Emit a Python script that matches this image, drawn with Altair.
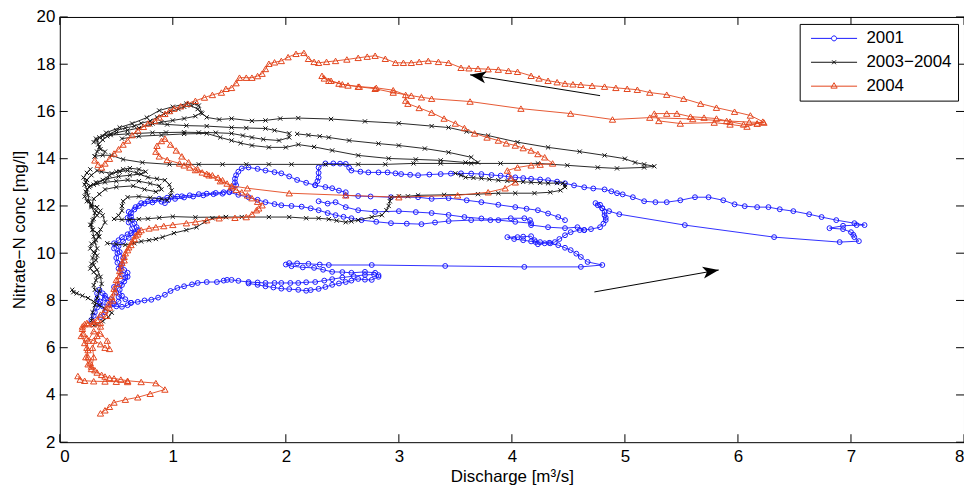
import altair as alt
import pandas as pd

# ---------------- data ----------------
SERIES = ["2001", "2003\u22122004", "2004"]
COLORS = ["#1a1aff", "#111111", "#e3461d"]

X_TICKS = [0, 1, 2, 3, 4, 5, 6, 7, 8]
Y_TICKS = [2, 4, 6, 8, 10, 12, 14, 16, 18, 20]

# ---- 2001 (blue, circles) ----
B_MAIN = [(0.28,7.18),(0.30,7.35),(0.31,7.5),(0.33,7.7),(0.35,7.85),(0.33,8.05),(0.33,8.3),(0.35,8.45),(0.38,8.3),(0.40,8.1),(0.42,7.9),(0.45,7.8),(0.50,7.75),(0.55,7.73),(0.60,7.8),(0.63,7.9),(0.58,8.05),(0.52,8.15),(0.50,8.35),(0.48,8.57),(0.53,8.7),(0.57,8.8),(0.60,9.0),(0.60,9.17),(0.57,9.29),(0.54,9.45),(0.51,9.6),(0.50,9.8),(0.51,10.0),(0.48,10.2),(0.48,10.42),(0.52,10.55),(0.55,10.68),(0.60,10.8),(0.63,10.85),(0.69,10.98),(0.68,11.1),(0.66,11.27),(0.64,11.4),(0.63,11.55),(0.63,11.69),(0.66,11.85),(0.70,12.0),(0.72,12.12),(0.78,12.2),(0.84,12.24),(0.90,12.18),(0.93,12.12),(0.96,12.25),(0.99,12.38),(1.04,12.4),(1.08,12.41),(1.15,12.45),(1.23,12.5),(1.30,12.52),(1.38,12.55),(1.45,12.58),(1.50,12.6),(1.53,12.72),(1.56,12.88),(1.55,13.0),(1.55,13.15),(1.56,13.3),(1.58,13.45),(1.61,13.59),(1.67,13.63),(1.75,13.57),(1.82,13.5),(1.90,13.43),(1.96,13.38),(2.03,13.25),(2.10,13.1),(2.18,12.98),(2.26,12.88),(2.28,13.05),(2.29,13.2),(2.29,13.4),(2.29,13.63),(2.35,13.8),(2.42,13.8),(2.48,13.79),(2.53,13.78),(2.56,13.62),(2.58,13.5),(2.66,13.45),(2.73,13.42),(2.82,13.42),(2.90,13.42),(2.97,13.38),(3.02,13.35),(3.10,13.32),(3.17,13.3),(3.27,13.33),(3.37,13.35),(3.46,13.37),(3.55,13.38),(3.64,13.37),(3.73,13.35),(3.82,13.31),(3.90,13.28),(3.97,13.24),(4.03,13.21),(4.10,13.18),(4.17,13.15),(4.25,13.12),(4.32,13.09),(4.40,13.03),(4.47,12.96),(4.55,12.87),(4.64,12.79),(4.72,12.74),(4.82,12.7),(4.88,12.62),(4.93,12.54),(4.98,12.49),(5.07,12.37),(5.17,12.2),(5.27,12.16),(5.37,12.16),(5.49,12.24),(5.62,12.37),(5.74,12.37),(5.87,12.24),(5.97,12.07),(6.06,11.99),(6.17,11.95),(6.27,11.95),(6.37,11.86),(6.49,11.78),(6.63,11.65),(6.74,11.53),(6.87,11.4),(7.03,11.27),(7.12,11.19),(7.05,11.19),(6.93,11.16),(6.81,11.06),(6.93,11.02),(7.00,10.89),(7.02,10.78),(7.03,10.68),(7.07,10.51),(6.90,10.47),(6.32,10.68),(5.53,11.19),(4.95,11.65),(4.86,11.78),(4.80,11.9),(4.76,12.03),(4.74,12.12),(4.78,12.05),(4.80,11.9),(4.82,11.75),(4.82,11.61),(4.83,11.5),(4.83,11.4),(4.81,11.25),(4.78,11.1),(4.70,11.02),(4.64,10.98),(4.60,10.98),(4.52,10.89),(4.47,10.76),(4.42,10.6),(4.38,10.47),(4.33,10.44),(4.29,10.42),(4.23,10.38),(4.21,10.47),(4.20,10.55),(4.17,10.72),(4.10,10.7),(4.05,10.68),(3.96,10.68),(4.02,10.6),(4.10,10.55),(4.17,10.5),(4.25,10.47),(4.34,10.42),(4.41,10.34),(4.47,10.23),(4.52,10.13),(4.57,9.98),(4.61,9.84),(4.67,9.63),(4.80,9.5),(4.61,9.42),(4.11,9.42),(3.41,9.46),(2.76,9.5),(2.38,9.5),(2.30,9.52),(2.20,9.55),(2.10,9.57),(2.03,9.58),(2.00,9.52),(2.05,9.45),(2.15,9.4),(2.25,9.38),(2.33,9.3),(2.41,9.21),(2.50,9.2),(2.58,9.17),(2.70,9.21),(2.79,9.17),(2.82,9.07),(2.82,9.0),(2.76,8.87),(2.70,8.88),(2.64,8.91),(2.58,8.84),(2.53,8.78),(2.47,8.72),(2.41,8.66),(2.35,8.57),(2.29,8.49),(2.22,8.44),(2.18,8.41),(2.11,8.45),(2.03,8.48),(1.96,8.5),(1.89,8.55),(1.82,8.6),(1.75,8.66),(1.67,8.72)]
B_LOW = [(0.63,7.9),(0.69,7.94),(0.75,8.0),(0.81,8.03),(0.87,8.12),(0.93,8.24),(0.98,8.4),(1.04,8.53),(1.10,8.6),(1.17,8.68),(1.22,8.74),(1.30,8.78),(1.39,8.78),(1.45,8.84),(1.48,8.87),(1.52,8.87),(1.58,8.83),(1.67,8.78),(1.75,8.76),(1.82,8.74),(1.90,8.74),(1.96,8.74),(2.04,8.74),(2.11,8.74),(2.18,8.77),(2.26,8.78),(2.34,8.84),(2.41,8.9),(2.50,8.97),(2.60,9.03),(2.70,9.08),(2.78,9.1)]
B_BAND = [(0.36,7.3),(0.40,7.5),(0.38,7.75),(0.36,7.95),(0.40,8.2),(0.45,8.05),(0.48,7.85),(0.52,7.95),(0.55,8.2),(0.53,8.45),(0.55,8.65),(0.58,8.95),(0.55,9.1),(0.52,9.35),(0.55,9.55),(0.56,9.8),(0.53,10.05),(0.52,10.3),(0.56,10.5),(0.61,10.65),(0.66,10.85),(0.64,11.05),(0.61,11.3),(0.60,11.5),(0.61,11.75),(0.67,11.95),(0.75,12.1),(0.82,12.15),(0.88,12.3),(0.95,12.35),(1.02,12.3),(1.10,12.36),(1.18,12.4),(1.27,12.45),(1.36,12.5),(1.44,12.52)]
B_FAN1 = [(1.50,12.58),(1.58,12.47),(1.67,12.37),(1.75,12.26),(1.82,12.16),(1.90,12.08),(1.96,12.03),(2.05,12.0),(2.14,11.97),(2.22,11.9),(2.29,11.82),(2.37,11.7),(2.44,11.61),(2.51,11.54),(2.58,11.48),(2.67,11.4),(2.80,11.33),(2.93,11.27),(3.07,11.25),(3.20,11.23),(3.32,11.3),(3.44,11.36),(3.64,11.4),(3.81,11.4),(3.99,11.48),(4.11,11.48),(4.16,11.4),(4.17,11.19),(4.32,11.1),(4.47,11.06),(4.58,11.1),(4.64,10.98)]
B_FAN2 = [(2.26,12.88),(2.35,12.8),(2.41,12.75),(2.47,12.65),(2.53,12.58),(2.53,12.45),(2.64,12.42),(2.75,12.4),(2.93,12.37),(3.17,12.37),(3.29,12.3),(3.44,12.33),(3.60,12.24),(3.73,12.16),(3.88,12.05),(4.03,11.95),(4.13,11.88),(4.23,11.82),(4.32,11.68),(4.41,11.53),(4.47,11.4)]
B_FAN3 = [(2.29,12.2),(2.37,12.1),(2.44,12.16),(2.53,11.95),(2.64,11.82),(2.79,11.75),(3.00,11.78),(3.15,11.74),(3.29,11.7),(3.44,11.62),(3.58,11.53),(3.73,11.47),(3.88,11.4),(4.03,11.33),(4.17,11.27)]

# ---- 2003-2004 (black, x markers) ----
K_LOW = [(0.11,8.45),(0.12,8.35),(0.15,8.3),(0.20,8.2),(0.25,8.1),(0.30,7.95),(0.35,7.8),(0.40,7.65),(0.46,7.48),(0.43,7.3),(0.38,7.12),(0.33,6.98),(0.30,6.95),(0.28,7.15),(0.29,7.5),(0.31,7.8),(0.33,8.1),(0.35,8.4),(0.37,8.7),(0.36,9.0),(0.33,9.3),(0.30,9.5),(0.29,9.8),(0.31,10.0),(0.33,10.2),(0.31,10.45),(0.30,10.7),(0.29,10.98),(0.28,11.2),(0.30,11.45),(0.31,11.7),(0.28,11.95),(0.26,12.2),(0.25,12.45),(0.24,12.7),(0.22,12.9),(0.24,13.1),(0.28,13.3),(0.33,13.5),(0.37,13.45),(0.46,13.38),(0.53,13.45),(0.60,13.5),(0.68,13.4),(0.78,13.21),(0.86,13.15),(0.93,13.09),(0.97,12.9),(0.99,12.66),(0.98,12.45),(0.95,12.24),(0.90,12.3),(0.80,12.35),(0.70,12.4),(0.60,12.37),(0.56,12.2),(0.55,12.0),(0.55,11.8),(0.52,11.6),(0.48,11.45),(0.55,11.42),(0.62,11.42),(0.70,11.44),(0.78,11.46),(0.88,11.5),(1.00,11.55),(1.20,11.52),(1.47,11.53),(1.61,11.53),(1.85,11.53),(2.03,11.53),(2.18,11.48),(2.29,11.48),(2.38,11.44),(2.45,11.38),(2.53,11.31),(2.58,11.35),(2.64,11.4),(2.76,11.53),(2.85,11.61),(2.89,11.82),(2.91,12.0),(2.92,12.2),(2.93,12.37),(3.00,12.41),(3.08,12.41),(3.17,12.45),(3.40,12.47),(3.70,12.5),(3.88,12.54),(4.03,12.54),(4.20,12.54),(4.34,12.58),(4.43,12.66),(4.47,12.8),(4.47,12.9),(4.45,12.96),(4.40,12.97),(4.32,12.96),(4.25,12.98),(4.17,13.0),(4.10,13.02),(4.03,13.04),(3.96,13.06),(3.88,13.09),(3.80,13.13),(3.73,13.17),(3.66,13.19),(3.59,13.21),(3.55,13.3),(3.50,13.38)]
K_SCRIB = [(0.27,13.55),(0.24,13.4),(0.21,13.2),(0.23,13.0),(0.27,12.85),(0.33,12.95),(0.38,13.1),(0.44,13.3),(0.50,13.45),(0.56,13.55),(0.62,13.6),(0.70,13.55),(0.76,13.45),(0.72,13.35),(0.62,13.3),(0.52,13.25),(0.42,13.15),(0.32,13.0),(0.26,12.8),(0.23,12.6),(0.22,12.4),(0.24,12.2),(0.28,12.05),(0.33,11.95),(0.36,11.8),(0.33,11.6),(0.29,11.4),(0.27,11.2),(0.29,11.0),(0.33,10.85),(0.35,10.7),(0.32,10.55),(0.28,10.4),(0.27,10.2),(0.30,10.05),(0.33,9.9),(0.32,9.7),(0.28,9.55),(0.27,9.35),(0.30,9.2),(0.33,9.05),(0.32,8.85),(0.30,8.65),(0.31,8.45)]
K_DIAG = [(0.42,10.42),(0.50,10.38),(0.58,10.35),(0.66,10.42),(0.72,10.5),(0.79,10.55),(0.85,10.6),(0.91,10.68),(1.01,10.85),(1.12,10.98),(1.21,11.1),(1.28,11.32),(1.35,11.48),(1.47,11.53)]
K_KNOT = [(0.30,12.9),(0.40,13.0),(0.50,13.05),(0.60,13.1),(0.70,13.05),(0.80,12.95),(0.88,12.85),(0.90,12.7),(0.85,12.6),(0.75,12.7),(0.65,12.85),(0.50,12.8),(0.40,12.7),(0.35,12.5),(0.30,12.3),(0.28,12.0),(0.32,11.8),(0.38,11.6),(0.40,11.3),(0.36,11.0),(0.34,10.7)]
K_LONG = [(0.31,14.1),(0.38,14.15),(0.46,14.14),(0.56,13.97),(0.73,13.84),(0.97,13.76),(1.23,13.76),(1.44,13.76),(1.65,13.76),(1.85,13.76),(2.05,13.76),(2.35,13.76),(2.64,13.76),(2.88,13.76),(3.13,13.8),(3.37,13.8),(3.64,13.8),(3.90,13.8),(4.23,13.8),(4.49,13.72),(4.76,13.63),(4.93,13.59),(5.17,13.63),(5.26,13.68),(5.17,13.76),(5.09,13.84),(5.00,14.0),(4.82,14.14),(4.60,14.3),(4.32,14.48),(4.05,14.7),(3.79,14.98),(3.60,15.15),(3.44,15.32),(3.29,15.38),(3.00,15.5),(2.70,15.58),(2.40,15.68),(2.11,15.72),(1.95,15.7),(1.82,15.62),(1.70,15.6),(1.52,15.7),(1.41,15.66),(1.30,15.75),(1.26,15.91),(1.23,16.25),(1.19,16.33),(1.12,16.33),(1.00,16.2),(0.88,16.04),(0.77,15.74),(0.64,15.49),(0.53,15.32),(0.41,15.1),(0.35,14.9),(0.33,14.77),(0.35,14.5),(0.33,14.3),(0.31,14.1)]
K_UP = [(0.30,14.7),(0.32,14.85),(0.38,14.95),(0.45,15.05),(0.50,15.2),(0.58,15.3),(0.66,15.38),(0.72,15.5),(0.80,15.6),(0.86,15.75),(0.92,15.9),(0.98,16.0),(1.05,16.1),(1.10,16.2),(1.16,16.25),(1.22,16.1),(1.25,15.95),(1.20,15.8),(1.10,15.7),(1.00,15.62),(0.90,15.55),(0.80,15.45),(0.70,15.3),(0.60,15.2),(0.50,15.1),(0.42,14.95),(0.38,14.8),(0.34,14.6),(0.36,14.4),(0.40,14.3)]
K_MID = [(0.45,15.0),(0.60,15.05),(0.82,15.1),(0.94,15.11),(1.10,15.12),(1.23,15.11),(1.38,15.1),(1.52,15.07),(1.62,14.98),(1.70,14.9),(1.80,14.82),(1.94,14.77),(2.03,14.9),(2.03,15.07),(1.90,15.2),(1.82,15.28),(1.65,15.3),(1.52,15.32),(1.30,15.38),(1.12,15.4),(0.95,15.45),(0.82,15.49)]
K_B = [(0.55,14.85),(0.70,14.95),(0.90,15.0),(1.10,15.05),(1.30,15.07),(1.42,14.9),(1.52,14.77),(1.60,14.66),(1.70,14.56),(1.85,14.48),(2.00,14.48),(2.11,14.6),(2.25,14.5),(2.41,14.35),(2.64,14.14),(2.91,14.01),(3.15,13.97),(3.37,13.93),(3.59,13.84),(3.70,13.84),(3.64,14.06),(3.44,14.27),(3.23,14.43),(3.00,14.56),(2.82,14.64),(2.56,14.77),(2.38,14.9),(2.30,14.95),(2.20,15.0),(2.10,15.05)]

# ---- 2004 (red, triangles) ----
R_MAIN = [(0.31,13.93),(0.34,13.75),(0.37,13.63),(0.40,13.8),(0.44,14.0),(0.48,14.22),(0.52,14.4),(0.56,14.6),(0.60,14.77),(0.64,15.0),(0.69,15.2),(0.74,15.35),(0.78,15.49),(0.84,15.6),(0.88,15.75),(0.93,15.9),(0.97,16.02),(1.01,16.12),(1.07,16.22),(1.13,16.33),(1.20,16.45),(1.28,16.59),(1.35,16.7),(1.43,16.8),(1.47,16.96),(1.52,17.0),(1.56,17.2),(1.59,17.43),(1.65,17.43),(1.70,17.43),(1.75,17.5),(1.79,17.6),(1.82,17.8),(1.85,18.02),(1.90,18.08),(1.96,18.14),(2.02,18.3),(2.09,18.44),(2.16,18.48),(2.20,18.23),(2.25,18.1),(2.29,18.06),(2.36,18.1),(2.44,18.14),(2.54,18.2),(2.64,18.27),(2.72,18.32),(2.79,18.36),(2.88,18.23),(2.97,18.06),(3.04,18.06),(3.11,18.06),(3.18,18.1),(3.26,18.14),(3.35,18.1),(3.44,18.06),(3.55,17.85),(3.62,17.83),(3.70,17.81),(3.79,17.79),(3.88,17.77),(3.97,17.72),(4.05,17.68),(4.17,17.51),(4.24,17.4),(4.32,17.3),(4.40,17.24),(4.47,17.18),(4.54,17.15),(4.61,17.13),(4.71,17.09),(4.82,17.05),(4.92,17.0),(5.02,16.96),(5.11,16.92),(5.22,16.8),(5.37,16.71),(5.52,16.54),(5.67,16.33),(5.81,16.16),(5.97,15.99),(6.11,15.83),(6.22,15.57),(6.17,15.49),(6.08,15.36),(5.93,15.45),(5.79,15.53),(5.49,15.49),(5.30,15.6),(5.26,15.91),(5.37,15.91),(5.46,15.91),(5.58,15.78),(5.70,15.74),(5.81,15.7),(5.93,15.57),(6.05,15.45),(6.17,15.49),(6.23,15.53),(6.10,15.55),(5.90,15.6),(5.60,15.68),(5.22,15.74),(4.89,15.66),(4.52,15.91),(4.08,16.12),(3.63,16.42),(3.29,16.54),(3.20,16.6),(3.11,16.67),(2.95,16.8),(2.79,16.96),(2.64,17.05),(2.55,17.1),(2.47,17.18),(2.38,17.3),(2.34,17.4),(2.32,17.51),(2.40,17.3),(2.50,17.15),(2.65,17.05),(2.80,17.0),(2.95,16.9),(3.06,16.7),(3.06,16.46),(3.08,16.33),(3.18,16.15),(3.29,15.95),(3.40,15.7),(3.50,15.49),(3.58,15.3),(3.67,15.07),(3.78,14.9),(3.88,14.77),(3.95,14.65),(4.03,14.56),(4.10,14.45),(4.17,14.35),(4.23,14.2),(4.29,14.06),(4.36,13.8),(4.25,13.75),(4.17,13.72),(4.05,13.63),(3.96,13.5),(3.99,13.2),(4.03,13.0),(3.94,12.75),(3.79,12.58),(3.52,12.45),(3.00,12.37),(2.53,12.45),(2.03,12.54),(1.66,12.75),(1.52,12.85),(1.42,13.05),(1.32,13.3),(1.22,13.55),(1.14,13.85),(1.08,14.1),(1.03,14.35),(0.98,14.6),(0.93,14.85),(0.90,14.75),(0.86,14.55),(0.85,14.3),(0.88,14.1),(0.95,13.95),(1.06,13.8),(1.10,13.72),(1.15,13.63),(1.20,13.52),(1.26,13.42),(1.30,13.36),(1.35,13.3),(1.40,13.2),(1.44,13.09),(1.48,12.95),(1.52,12.79),(1.56,12.68),(1.61,12.58),(1.66,12.45),(1.70,12.33),(1.75,12.18),(1.79,12.03),(1.76,11.9),(1.74,11.82),(1.70,11.65),(1.65,11.53),(1.55,11.5),(1.41,11.48),(1.30,11.4),(1.20,11.32),(1.12,11.27),(1.00,11.2),(0.92,11.15),(0.85,11.1),(0.79,11.05),(0.72,10.98),(0.69,10.8),(0.66,10.6),(0.63,10.35),(0.60,10.13),(0.57,9.85),(0.55,9.59),(0.53,9.25),(0.50,8.87),(0.48,8.5),(0.46,8.15),(0.43,7.85),(0.40,7.6),(0.36,7.4),(0.33,7.18),(0.30,7.0),(0.24,7.05),(0.20,6.9),(0.21,6.6),(0.24,6.4),(0.30,6.3),(0.36,6.15),(0.40,6.0),(0.44,5.95),(0.42,6.3),(0.36,6.6),(0.30,6.7),(0.25,6.3),(0.24,6.0),(0.25,5.6),(0.27,5.35),(0.28,5.2),(0.31,5.05),(0.33,4.95),(0.37,4.85),(0.40,4.78),(0.44,4.72),(0.48,4.7),(0.54,4.65),(0.60,4.6),(0.72,4.55),(0.85,4.5),(0.93,4.23),(0.80,4.05),(0.69,3.9),(0.58,3.8),(0.48,3.68),(0.44,3.5),(0.40,3.35),(0.36,3.22)]
R_TAIL = [(0.16,4.8),(0.18,4.65),(0.22,4.6),(0.30,4.58),(0.40,4.57),(0.50,4.56),(0.60,4.55)]
R_KNOT = [(0.22,7.0),(0.20,6.8),(0.19,6.5),(0.22,6.2),(0.25,5.9),(0.23,5.6),(0.25,5.3),(0.28,5.1),(0.30,5.6),(0.29,6.0),(0.33,6.5),(0.36,6.9),(0.30,7.1),(0.25,7.0)]
R_RISE = [(0.36,7.05),(0.41,7.35),(0.44,7.7),(0.47,8.0),(0.49,8.35),(0.51,8.7),(0.53,9.05),(0.54,9.4),(0.57,9.7),(0.58,10.0),(0.61,10.25),(0.64,10.5),(0.67,10.75),(0.70,10.9)]

# arrows: start (x, y) -> head (x2, y2), head angle in degrees
ARROW_X = [4.73, 4.78]
ARROW_Y = [8.36, 16.67]
ARROW_X2 = [5.83, 3.63]
ARROW_Y2 = [9.29, 17.55]
ARROW_ANGLE = [350, 189]

# ---------------- build tables ----------------
def rows(series, segs):
    out = []
    for si, seg in enumerate(segs):
        for i, (x, y) in enumerate(seg):
            out.append({"series": series, "seg": f"{series}-{si}", "i": i, "x": x, "y": y})
    return out

df_blue = pd.DataFrame(rows(SERIES[0], [B_MAIN, B_LOW, B_BAND, B_FAN1, B_FAN2, B_FAN3]))
df_black = pd.DataFrame(rows(SERIES[1], [K_LOW, K_SCRIB, K_DIAG, K_KNOT, K_LONG, K_UP, K_MID, K_B]))
df_red = pd.DataFrame(rows(SERIES[2], [R_MAIN, R_TAIL, R_KNOT, R_RISE]))
df_all = pd.concat([df_blue, df_black, df_red], ignore_index=True)

df_arrow = pd.DataFrame({"x": ARROW_X, "y": ARROW_Y, "x2": ARROW_X2, "y2": ARROW_Y2, "ang": ARROW_ANGLE})
df_xt = pd.DataFrame({"t": X_TICKS})
df_yt = pd.DataFrame({"t": Y_TICKS})

W, H = 908, 427
FONT = "Liberation Sans"
FS = 17
TL = 8  # inward tick length

xscale = alt.Scale(domain=[0, 8], nice=False, zero=False)
yscale = alt.Scale(domain=[2, 20], nice=False, zero=False)
xaxis = alt.Axis(values=X_TICKS, title="Discharge [m\u00b3/s]", labelPadding=6, titlePadding=4,
                 grid=False, ticks=False, domain=False)
yaxis = alt.Axis(values=Y_TICKS, title="Nitrate\u2212N conc [mg/l]", labelPadding=5, titlePadding=8,
                 grid=False, ticks=False, domain=False)

def X(f):
    return alt.X(f, type="quantitative", scale=xscale, axis=xaxis)

def Y(f):
    return alt.Y(f, type="quantitative", scale=yscale, axis=yaxis)

X_PATH = "M-1,-1L1,1M-1,1L1,-1"
MARK = {
    SERIES[0]: dict(shape="circle", size=24),
    SERIES[1]: dict(shape=X_PATH, size=18),
    SERIES[2]: dict(shape="triangle-up", size=40),
}

layers = []
for s, c, d in zip(SERIES, COLORS, [df_blue, df_black, df_red]):
    base = alt.Chart(d)
    layers.append(base.mark_line(color=c, strokeWidth=0.9).encode(
        x=X("x"), y=Y("y"), detail="seg:N", order="i:Q"))
    layers.append(base.mark_point(color=c, filled=False, strokeWidth=1, opacity=1, **MARK[s]).encode(
        x=X("x"), y=Y("y")))

# arrows
arrow_shaft = alt.Chart(df_arrow).mark_rule(color="black", strokeWidth=1).encode(
    x=X("x"), y=Y("y"), x2="x2", y2="y2")
arrow_head = alt.Chart(df_arrow).mark_point(
    shape="M0,0L-2,-0.75L-1.5,0L-2,0.75Z", size=256, filled=True, color="black", opacity=1
).encode(x=X("x2"), y=Y("y2"), angle=alt.Angle("ang:Q", scale=None))

# inward ticks on all four sides
xt = alt.Chart(df_xt)
yt = alt.Chart(df_yt)
tick_b = xt.mark_rule(color="black").encode(x=X("t"), y=alt.value(H), y2=alt.value(H - TL))
tick_t = xt.mark_rule(color="black").encode(x=X("t"), y=alt.value(0), y2=alt.value(TL))
tick_l = yt.mark_rule(color="black").encode(y=Y("t"), x=alt.value(0), x2=alt.value(TL))
tick_r = yt.mark_rule(color="black").encode(y=Y("t"), x=alt.value(W), x2=alt.value(W - TL))

# legend (drawn by Vega-Lite from the color/shape scales)
LEG_SHAPES = [
    "M-3.3,0L-0.36,0M0.36,0A0.36,0.36 0 1 1 -0.36,0A0.36,0.36 0 1 1 0.36,0M0.36,0L3.3,0",
    "M-3.3,0L3.3,0M-0.28,-0.28L0.28,0.28M-0.28,0.28L0.28,-0.28",
    "M-3.3,0L3.3,0M0,-0.5L0.45,0.28L-0.45,0.28Z",
]
LEG = dict(title=None, orient="none", legendX=743, legendY=7,
           strokeColor="black", fillColor="white", padding=6,
           symbolSize=196, symbolOffset=20, labelOffset=24,
           labelFontSize=FS, labelFont=FONT, labelColor="black",
           rowPadding=6, symbolStrokeWidth=1)
legend_layer = alt.Chart(df_all).transform_filter("false").mark_point(
    filled=False, size=196, strokeWidth=1, opacity=1
).encode(
    x=X("x"), y=Y("y"),
    color=alt.Color("series:N", scale=alt.Scale(domain=SERIES, range=COLORS), sort=SERIES,
                    legend=alt.Legend(**LEG)),
    shape=alt.Shape("series:N", scale=alt.Scale(domain=SERIES, range=LEG_SHAPES), sort=SERIES,
                    legend=alt.Legend(**LEG)),
)

chart = alt.layer(
    *layers, arrow_shaft, arrow_head, tick_b, tick_t, tick_l, tick_r, legend_layer
).properties(
    width=W, height=H,
    autosize=alt.AutoSizeParams(type="none"),
    padding={"left": 52, "top": 8, "right": 0, "bottom": 45},
    background="white",
).configure_view(
    stroke="black", strokeWidth=1
).configure_axis(
    domain=False, ticks=False, tickSize=0, grid=False,
    labelFont=FONT, labelFontSize=FS, labelColor="black",
    titleFont=FONT, titleFontSize=FS, titleColor="black", titleFontWeight="normal",
)

chart.save("out.html", embed_options={"renderer": "svg", "actions": False})
